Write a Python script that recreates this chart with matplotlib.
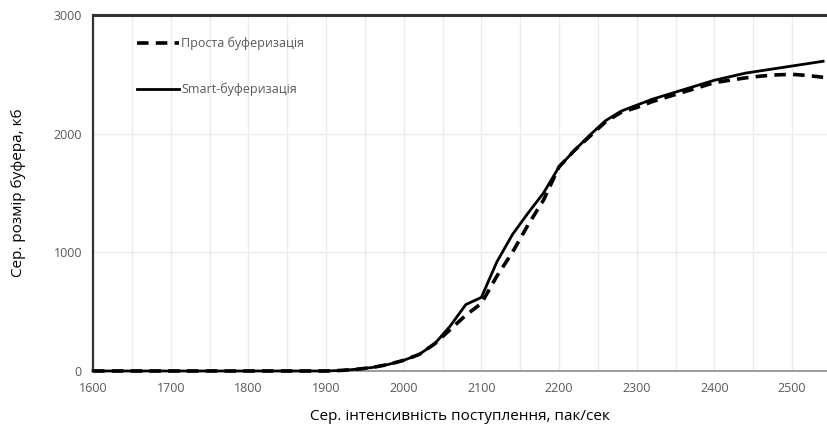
import matplotlib
matplotlib.use("Agg")
import matplotlib.pyplot as plt
from matplotlib.ticker import MultipleLocator

plt.rcParams['font.family'] = ['Open Sans', 'DejaVu Sans']

x_vals = [1600, 1700, 1800, 1900, 1920, 1940, 1960, 1980, 2000, 2020, 2040, 2060, 2080,
          2100, 2120, 2140, 2160, 2180, 2200, 2220, 2240, 2260, 2280, 2300, 2320, 2340,
          2360, 2380, 2400, 2420, 2440, 2460, 2480, 2500, 2520, 2540]
simple_vals = [0, 0, 0, 0, 5, 15, 30, 55, 90, 140, 230, 350, 470,
               570, 800, 1000, 1230, 1440, 1720, 1860, 1980, 2100, 2180, 2220, 2270, 2310,
               2350, 2390, 2430, 2450, 2470, 2485, 2495, 2500, 2490, 2475]
smart_vals = [0, 0, 0, 0, 5, 15, 30, 55, 90, 140, 230, 380, 560,
              620, 920, 1150, 1330, 1500, 1720, 1860, 1990, 2110, 2190, 2240, 2290, 2330,
              2370, 2410, 2450, 2480, 2510, 2530, 2550, 2570, 2590, 2610]
series_names = ["Проста буферизація", "Smart-буферизація"]
x_ticks = [1600, 1700, 1800, 1900, 2000, 2100, 2200, 2300, 2400, 2500]
y_ticks = [0, 1000, 2000, 3000]

fig = plt.figure(figsize=(8.27, 4.28), dpi=100)
ax = fig.add_axes([0.1125, 0.1332, 0.8875, 0.8318])

ax.plot(x_vals, simple_vals, color='black', lw=2.6, dashes=(3.2, 2.0),
        label=series_names[0], solid_capstyle='butt', zorder=3, clip_on=False)
ax.plot(x_vals, smart_vals, color='black', lw=2.0, label=series_names[1], zorder=4,
        clip_on=False)

ax.set_xlim(1600, 2545)
ax.set_ylim(0, 3000)
ax.set_xticks(x_ticks)
ax.set_yticks(y_ticks)
ax.xaxis.set_minor_locator(MultipleLocator(50))
ax.grid(which='major', axis='both', color='#ececec', lw=1)
ax.grid(which='minor', axis='x', color='#ececec', lw=1)
ax.set_axisbelow(True)

ax.tick_params(which='both', length=0, labelsize=9, labelcolor='#595959', pad=8)
ax.spines['right'].set_visible(False)
ax.spines['top'].set_color('#333333')
ax.spines['top'].set_linewidth(2.2)
ax.spines['left'].set_color('#333333')
ax.spines['left'].set_linewidth(1.6)
ax.spines['bottom'].set_color('#8c8c8c')
ax.spines['bottom'].set_linewidth(1.2)

ax.set_xlabel("Сер. інтенсивність поступлення, пак/сек", fontsize=11, labelpad=10)
ax.set_ylabel("Сер. розмір буфера, кб", fontsize=11, labelpad=20)

leg = ax.legend(loc='upper left', bbox_to_anchor=(0.045, 0.97), frameon=False,
                fontsize=9, labelspacing=2.6, handlelength=3.3, handletextpad=0.2)
for t in leg.get_texts():
    t.set_color('#595959')

fig.savefig("out.png", dpi=100)
